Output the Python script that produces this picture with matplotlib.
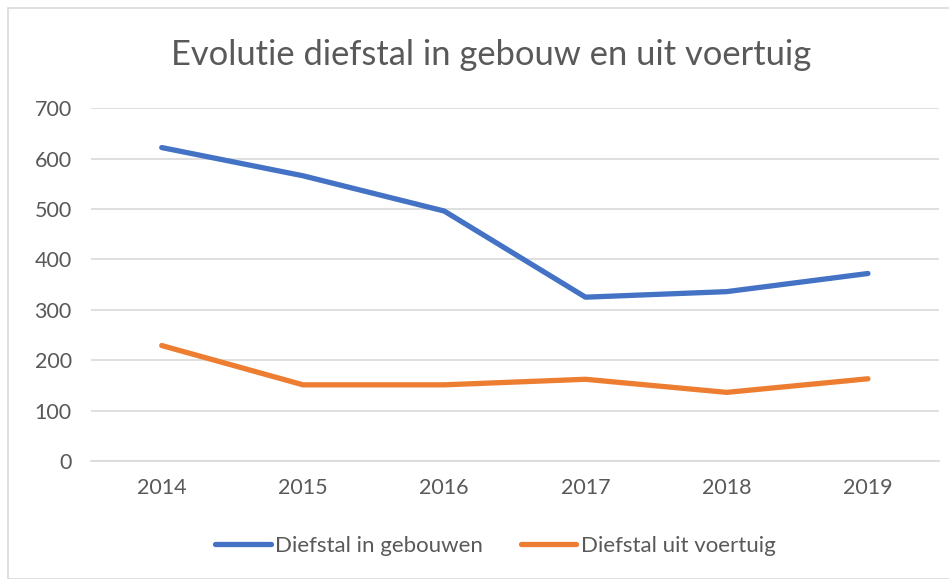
import matplotlib.pyplot as plt
from matplotlib.patches import Rectangle

years = ["2014", "2015", "2016", "2017", "2018", "2019"]
gebouwen = [622, 566, 496, 325, 336, 372]
voertuig = [229, 151, 151, 162, 136, 163]

plt.rcParams['font.family'] = ['Lato', 'DejaVu Sans']
text_color = "#595959"

fig = plt.figure(figsize=(9.49, 5.79), dpi=100)
fig.patches.append(Rectangle((8 / 949, 0), 1.0, 1 - 8 / 579, transform=fig.transFigure,
                             fill=False, edgecolor="#d9d9d9", linewidth=1.2))

ax = fig.add_axes([0.096, 0.204, 0.893, 0.609])
x = range(len(years))
ax.plot(x, gebouwen, color="#4472c4", linewidth=3.8, solid_capstyle="round",
        label="Diefstal in gebouwen")
ax.plot(x, voertuig, color="#ed7d31", linewidth=3.8, solid_capstyle="round",
        label="Diefstal uit voertuig")

ax.set_xlim(-0.5, len(years) - 0.5)
ax.set_ylim(0, 700)
ax.set_yticks(range(0, 701, 100))
ax.set_xticks(list(x))
ax.set_xticklabels(years)
ax.grid(axis="y", color="#d9d9d9", linewidth=1.2)
ax.set_axisbelow(True)
for s in ["top", "right", "left"]:
    ax.spines[s].set_visible(False)
ax.spines["bottom"].set_color("#d9d9d9")
ax.spines["bottom"].set_linewidth(1.2)
ax.tick_params(length=0, labelsize=15.5, colors=text_color)
ax.tick_params(axis="x", pad=12)
ax.tick_params(axis="y", pad=14)

fig.text(0.518, 0.905, "Evolutie diefstal in gebouw en uit voertuig",
         ha="center", va="center", fontsize=24.8, color=text_color)

leg = fig.legend(loc="center", bbox_to_anchor=(0.522, 0.057), ncol=2, frameon=False,
                 fontsize=16, handlelength=2.5, columnspacing=1.7, handletextpad=0.2)
for t in leg.get_texts():
    t.set_color(text_color)

fig.savefig("out.png", dpi=100)
